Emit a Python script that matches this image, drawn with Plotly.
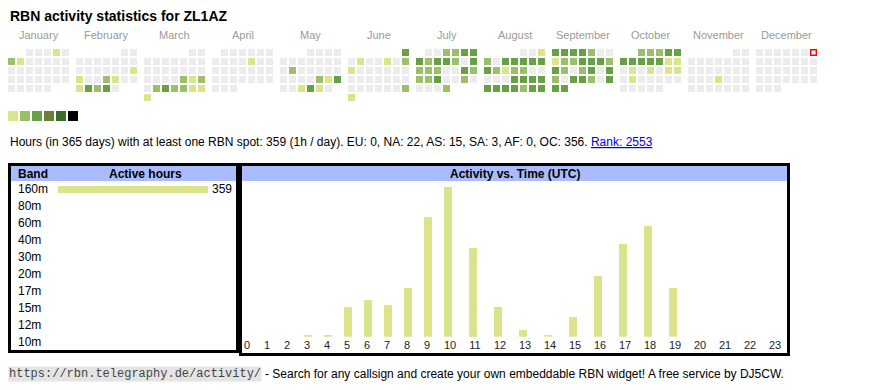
import datetime as dt
import plotly.graph_objects as go

# ---------------- data ----------------
YEAR = 2025
CALLSIGN = "ZL1AZ"
months = ["January", "February", "March", "April", "May", "June", "July",
          "August", "September", "October", "November", "December"]
# activity level per day (0 = none, 1..3 = increasing activity), one string per month
day_levels = [
    "0001021000000000000000000000000",          # Jan
    "0000000000000001100210013230",             # Feb
    "0000000000000000000021202322111",          # Mar
    "000000000010000000000000000000",           # Apr
    "0000000000002000000000213001310",          # May
    "301001021000000000000000000021",           # Jun
    "0022333" "2332032" "2200322" "2300200" "002",   # Jul
    "0012033" "3333212" "2000003" "3333333" "233",   # Aug
    "3333200" "1223332" "3202303" "2033203" "33",    # Sep
    "2223333" "3331101" "0101101" "0000000" "000",   # Oct
    "000000000000000000010000000000",           # Nov
    "0000000000000000000000000000000",          # Dec
]
today = (12, 7)
level_colors = ["#ececec", "#dbe38b", "#9cc069", "#67a045", "#6a7f3b", "#3e6c28", "#000000"]
legend_colors = level_colors[1:]

hours = list(range(24))
hour_activity = [0, 0, 0, 1, 1, 12, 15, 13, 20, 49, 61, 36, 12, 3, 1, 8, 25, 38, 45, 20, 0, 0, 0, 0]

bands = ["160m", "80m", "60m", "40m", "30m", "20m", "17m", "15m", "12m", "10m"]
band_hours = [359, 0, 0, 0, 0, 0, 0, 0, 0, 0]

continents = ["EU", "NA", "AS", "SA", "AF", "OC"]
continent_hours = [0, 22, 15, 3, 0, 356]
total_hours = 359
days_span = 365
per_day = "1h / day"
rank = 2553
url = "https://rbn.telegraphy.de/activity/"
footer = "- Search for any callsign and create your own embeddable RBN widget! A free service by DJ5CW."

# ---------------- layout constants ----------------
OX, OY = 8, 8            # page offset of the plot div (body margin)
W, H = 862, 382
FONT = "Liberation Sans, Arial, sans-serif"
MONO = "Liberation Mono, Courier New, monospace"
CAL_X0, CAL_Y0 = 8, 49
CELL, CELL_PITCH, MONTH_PITCH = 7, 9, 68
BAR_COLOR = "#dbe38b"
HEAD_COLOR = "#aabbff"


def px(x):
    return (x - OX) / W


def py(y):
    return 1 - (y - OY) / H


fig = go.Figure()

# ---------------- calendar ----------------
cx, cy, cc = [], [], []
tx, ty = [], []
for m in range(12):
    f = dt.date(YEAR, m + 1, 1).weekday()
    for i, ch in enumerate(day_levels[m]):
        row, col = divmod(i + f, 7)
        x = CAL_X0 + m * MONTH_PITCH + col * CELL_PITCH + CELL / 2
        y = CAL_Y0 + row * CELL_PITCH + CELL / 2
        if (m + 1, i + 1) == today:
            tx.append(x)
            ty.append(y)
            continue
        cx.append(x)
        cy.append(y)
        cc.append(level_colors[int(ch)])

fig.add_trace(go.Scatter(x=cx, y=cy, mode="markers", hoverinfo="skip",
                         marker=dict(symbol="square", size=CELL, color=cc, line=dict(width=0)),
                         xaxis="x", yaxis="y", showlegend=False))
fig.add_trace(go.Scatter(x=tx, y=ty, mode="markers", hoverinfo="skip",
                         marker=dict(symbol="square", size=5.6, color="white",
                                     line=dict(width=1.4, color="#ff0000")),
                         xaxis="x", yaxis="y", showlegend=False))
# legend swatches
fig.add_trace(go.Scatter(x=[13 + 12 * i for i in range(len(legend_colors))],
                         y=[116] * len(legend_colors), mode="markers", hoverinfo="skip",
                         marker=dict(symbol="square", size=10, color=legend_colors, line=dict(width=0)),
                         xaxis="x", yaxis="y", showlegend=False))

annotations = []
for m, name in enumerate(months):
    annotations.append(dict(x=CAL_X0 + m * MONTH_PITCH + (7 * CELL_PITCH - 2) / 2, y=35,
                            xref="x", yref="y", text=name, showarrow=False,
                            font=dict(family=FONT, size=11, color="#9a9a9a"),
                            xanchor="center", yanchor="middle"))

annotations.append(dict(x=px(8), y=py(16), xref="paper", yref="paper",
                        text="<b>RBN activity statistics for %s</b>" % CALLSIGN,
                        showarrow=False, xanchor="left", yanchor="middle",
                        font=dict(family=FONT, size=14, color="#000")))

cont_txt = ", ".join("%s: %d" % (c, v) for c, v in zip(continents, continent_hours))
hours_txt = ("Hours (in %d days) with at least one RBN spot: %d (%s). %s. "
             "<span style='color:#0000ee'><u>Rank: %d</u></span>"
             % (days_span, total_hours, per_day, cont_txt, rank))
annotations.append(dict(x=px(8), y=py(142), xref="paper", yref="paper", text=hours_txt,
                        showarrow=False, xanchor="left", yanchor="middle",
                        font=dict(family=FONT, size=12, color="#000")))

# ---------------- band table ----------------
fig.add_trace(go.Bar(x=band_hours, y=bands, orientation="h", width=7 / 17,
                     marker=dict(color=BAR_COLOR, line=dict(width=0)),
                     xaxis="x3", yaxis="y3", hoverinfo="skip", showlegend=False))
for b, v in zip(bands, band_hours):
    annotations.append(dict(x=px(16), y=b, xref="paper", yref="y3", text=b, showarrow=False,
                            xanchor="left", yanchor="middle",
                            font=dict(family=FONT, size=12, color="#000")))
    if v > 0:
        annotations.append(dict(x=v, y=b, xref="x3", yref="y3", text=str(v), showarrow=False,
                                xanchor="left", yanchor="middle", xshift=2,
                                font=dict(family=FONT, size=12, color="#000")))

# ---------------- hour chart ----------------
lefts = []
pos = 244
for h in hours:
    lefts.append(pos)
    pos += 20 if len(str(h)) == 1 else 25
bar_x = [l + 4 for l in lefts]
tick_x = [l + 3 * len(str(h)) for l, h in zip(lefts, hours)]
fig.add_trace(go.Bar(x=bar_x, y=hour_activity, width=8,
                     marker=dict(color=BAR_COLOR, line=dict(width=0)),
                     xaxis="x2", yaxis="y2", hoverinfo="skip", showlegend=False))

# headers
annotations += [
    dict(x=px(16), y=py(173.5), xref="paper", yref="paper", text="<b>Band</b>", showarrow=False,
         xanchor="left", yanchor="middle", font=dict(family=FONT, size=12, color="#000")),
    dict(x=px(145), y=py(173.5), xref="paper", yref="paper", text="<b>Active hours</b>",
         showarrow=False, xanchor="center", yanchor="middle",
         font=dict(family=FONT, size=12, color="#000")),
    dict(x=px(514.5), y=py(173.5), xref="paper", yref="paper",
         text="<b>Activity vs. Time (UTC)</b>", showarrow=False, xanchor="center",
         yanchor="middle", font=dict(family=FONT, size=12, color="#000")),
]

# footer
annotations += [
    dict(x=px(8), y=py(374), xref="paper", yref="paper", text=url, showarrow=False,
         xanchor="left", yanchor="middle", bgcolor="#e4e4e4", borderpad=0,
         font=dict(family=MONO, size=12, color="#444")),
    dict(x=px(263), y=py(374), xref="paper", yref="paper", text=footer, showarrow=False,
         xanchor="left", yanchor="middle", font=dict(family=FONT, size=12, color="#000")),
]

shapes = [
    dict(type="rect", xref="paper", yref="paper", x0=px(11), x1=px(236), y0=py(166), y1=py(181),
         fillcolor=HEAD_COLOR, line=dict(width=0), layer="below"),
    dict(type="rect", xref="paper", yref="paper", x0=px(242), x1=px(787), y0=py(166), y1=py(181),
         fillcolor=HEAD_COLOR, line=dict(width=0), layer="below"),
    dict(type="rect", xref="paper", yref="paper", x0=px(9.5), x1=px(237.5), y0=py(164.5),
         y1=py(351.5), line=dict(width=3, color="#000"), layer="above"),
    dict(type="rect", xref="paper", yref="paper", x0=px(240.5), x1=px(788.5), y0=py(164.5),
         y1=py(354.5), line=dict(width=3, color="#000"), layer="above"),
]

hidden = dict(visible=False, fixedrange=True)
fig.update_layout(
    width=W, height=H, margin=dict(l=0, r=0, t=0, b=0, pad=0),
    paper_bgcolor="white", plot_bgcolor="rgba(0,0,0,0)",
    showlegend=False, bargap=0,
    xaxis=dict(domain=[0, 1], range=[OX, OX + W], **hidden),
    yaxis=dict(domain=[0, 1], range=[OY + H, OY], **hidden),
    xaxis2=dict(domain=[px(242), px(787)], range=[242, 787], anchor="y2",
                tickmode="array", tickvals=tick_x, ticktext=[str(h) for h in hours],
                showgrid=False, zeroline=False, showline=False, ticks="",
                tickfont=dict(family=FONT, size=11, color="#222"), fixedrange=True),
    yaxis2=dict(domain=[py(336.7), py(186.7)], range=[0, max(hour_activity)], anchor="x2",
                **hidden),
    xaxis3=dict(domain=[px(58), px(208)], range=[0, max(band_hours)], anchor="y3", **hidden),
    yaxis3=dict(domain=[py(350.8), py(180.8)], type="category", categoryorder="array",
                categoryarray=bands, range=[len(bands) - 0.5, -0.5], anchor="x3", **hidden),
    annotations=annotations,
    shapes=shapes,
)

fig.write_html("out.html")
